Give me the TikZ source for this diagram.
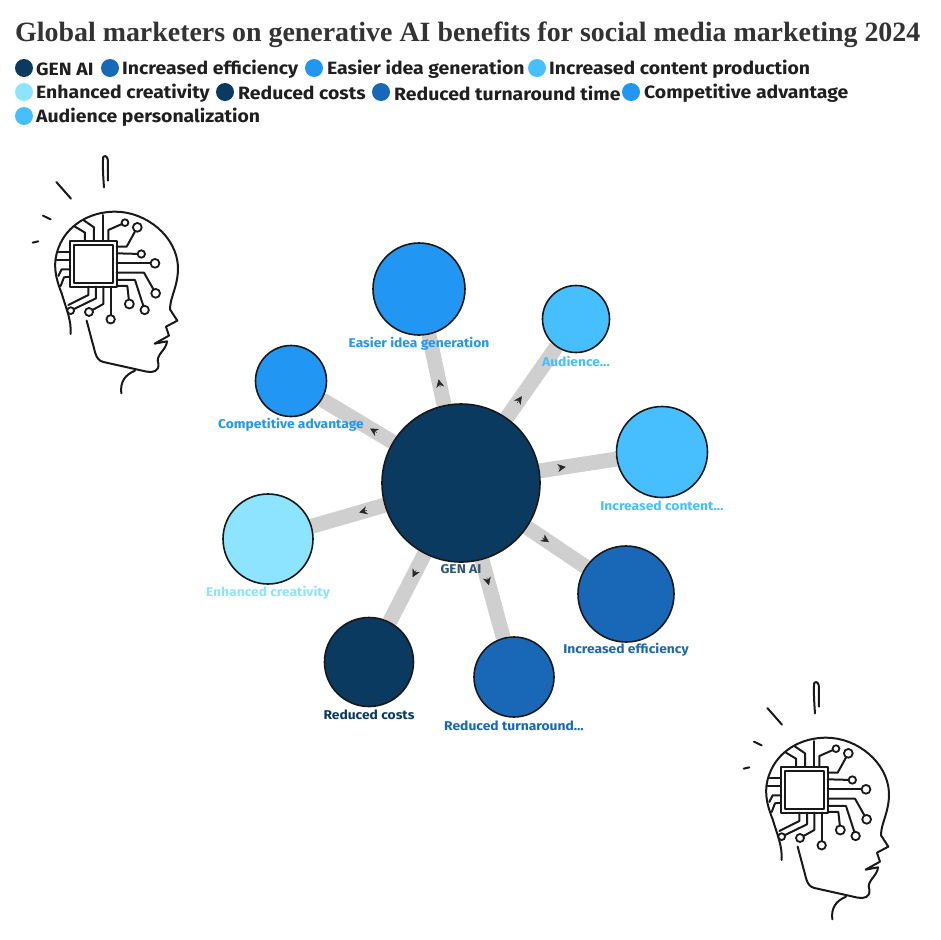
\documentclass[tikz,border=0pt]{standalone}
\usepackage{fontspec}
\setmainfont[FakeStretch=1.09]{Fira Sans}
\newfontfamily\titlefont{Liberation Serif}
\usetikzlibrary{calc,arrows.meta,backgrounds}
\definecolor{cnavy}{HTML}{0A3A60}
\definecolor{cmid}{HTML}{1868B7}
\definecolor{cblue}{HTML}{2196F3}
\definecolor{csky}{HTML}{47BFFF}
\definecolor{cpale}{HTML}{8DE4FF}
\definecolor{cedge}{HTML}{CFCFCF}
\tikzset{
  x=1pt,y=-1pt,
  bubble/.style={circle,draw=black!90,line width=1.6pt,inner sep=0pt,minimum size=#1},
  link/.style={draw=cedge,line width=15pt},
  tick/.style={-{Stealth[length=8pt,width=8pt,inset=2.5pt]},draw=black!85,line width=.5pt},
  lab/.style={font=\fontsize{12.7}{14}\selectfont\bfseries,inner sep=0pt,anchor=center},
  legdot/.style={circle,inner sep=0pt,minimum size=18pt},
  legtext/.style={font=\fontsize{17.8}{20}\selectfont\bfseries,text=black!88,inner sep=0pt,anchor=west},
  hl/.style={line width=2pt,line cap=round,line join=round,draw=black!90},
  pad/.style={circle,draw=black!90,fill=white,line width=1.8pt,inner sep=0pt,minimum size=#1},
  head/.pic={
    \begin{scope}[x=.3333pt,y=-.3333pt]
    \draw[hl] (252,112) .. controls (248,60) and (248,30) .. (250,20) .. controls (258,15) and (264,22) .. (264,35) -- (264,92);
    \draw[hl] (109,96) -- (153,146);
    \draw[hl] (69,197) -- (92,208);
    \draw[hl] (38,278) -- (55,274);
    \draw[hl] (152,552) .. controls (154,510) and (140,480) .. (125,430) .. controls (105,380) and (98,340) .. (115,295) .. controls (140,225) and (210,185) .. (285,185) .. controls (380,185) and (470,260) .. (474,350) .. controls (475,410) and (450,440) .. (450,478) -- (472,512) -- (438,530) -- (447,557) -- (404,581) -- (441,574) .. controls (440,600) and (405,615) .. (415,640) .. controls (418,665) and (400,668) .. (380,665) -- (250,636) .. controls (225,630) and (225,600) .. (218,580) -- (200,512);
    \draw[hl] (345,662) .. controls (315,675) and (300,695) .. (304,730);
    \draw[hl,line width=2.2pt] (150,272) rectangle (290,410);
    \draw[hl,line width=2.2pt] (162,284) rectangle (278,398);
    \draw[hl] (265,272) -- (265,240) -- (315,218);
    \draw[hl] (248,272) -- (248,195);
    \draw[hl] (222,272) -- (222,232) -- (190,210);
    \draw[hl] (195,272) -- (195,248) -- (165,230);
    \draw[hl] (290,290) -- (320,290) -- (352,232);
    \draw[hl] (290,310) -- (364,312);
    \draw[hl] (290,340) -- (405,340);
    \draw[hl] (290,368) -- (372,368) -- (407,430);
    \draw[hl] (290,390) -- (345,390) -- (374,480);
    \draw[hl] (290,408) -- (322,408) -- (328,462);
    \draw[hl] (272,410) -- (272,508);
    \draw[hl] (250,410) -- (250,462) -- (207,486);
    \draw[hl] (228,410) -- (228,445) -- (152,482);
    \draw[hl] (205,410) -- (205,435) -- (145,465);
    \draw[hl] (150,305) -- (116,305);
    \draw[hl] (150,330) -- (110,330);
    \draw[hl] (150,358) -- (125,358) -- (115,378);
    \draw[hl] (150,380) -- (132,382) -- (122,408);
    \node[pad=6.8pt] at (315,218) {};
    \node[pad=8.8pt] at (352,232) {};
    \node[pad=7.4pt] at (364,312) {};
    \node[pad=8.8pt] at (405,340) {};
    \node[pad=8.8pt] at (407,430) {};
    \node[pad=8.4pt] at (374,480) {};
    \node[pad=9pt] at (328,462) {};
    \node[pad=8.4pt] at (272,508) {};
    \node[pad=8pt] at (207,486) {};
    \node[pad=6.8pt] at (152,482) {};
    \end{scope}
  }
}
\begin{document}
\begin{tikzpicture}
\useasboundingbox (0,0) rectangle (940,940);
\node[anchor=west,inner sep=0pt,text=black!80,font=\titlefont\fontsize{27.9}{30}\selectfont\bfseries] (title) at (15,35) {Global marketers on generative AI benefits for social media marketing 2024};

% legend
\node[legdot,fill=cnavy] (d1) at (24,68) {};
\node[legtext] (t1) at (36,69) {GEN AI};
\node[legdot,fill=cmid] (d2) at (110,68) {};
\node[legtext] (t2) at (122,69) {Increased efficiency};
\node[legdot,fill=cblue] (d3) at (314,68) {};
\node[legtext] (t3) at (327,69) {Easier idea generation};
\node[legdot,fill=csky] (d4) at (537,68) {};
\node[legtext] (t4) at (549,69) {Increased content production};
\node[legdot,fill=cpale] (d5) at (24,92) {};
\node[legtext] (t5) at (36,93) {Enhanced creativity};
\node[legdot,fill=cnavy] (d6) at (225,92) {};
\node[legtext] (t6) at (238,93) {Reduced costs};
\node[legdot,fill=cmid] (d7) at (381,92) {};
\node[legtext] (t7) at (394,93) {Reduced turnaround time};
\node[legdot,fill=cblue] (d8) at (631,92) {};
\node[legtext] (t8) at (644,93) {Competitive advantage};
\node[legdot,fill=csky] (d9) at (24,116) {};
\node[legtext] (t9) at (36,117) {Audience personalization};

% bubbles
\node[bubble=158pt,fill=cnavy] (gen) at (461,483) {};
\node[bubble=92pt,fill=cblue] (easier) at (419,289) {};
\node[bubble=67pt,fill=csky] (aud) at (576,319) {};
\node[bubble=91pt,fill=csky] (cont) at (662,452) {};
\node[bubble=96pt,fill=cmid] (eff) at (626,594) {};
\node[bubble=80pt,fill=cmid] (turn) at (514,677) {};
\node[bubble=89pt,fill=cnavy] (costs) at (369,662) {};
\node[bubble=90pt,fill=cpale] (creat) at (268,539) {};
\node[bubble=71pt,fill=cblue] (comp) at (291,381) {};

\begin{scope}[on background layer]
\foreach \n in {easier,aud,cont,eff,turn,costs,creat,comp}{
  \draw[link] (gen) -- (\n);
}
\end{scope}
\foreach \n in {easier,aud,cont,eff,turn,costs,creat,comp}{
  \draw[tick] ($(gen)!98pt!(\n)$) -- ($(gen)!106pt!(\n)$);
}

% labels
\node[lab,text=cnavy!85] (lgen) at (461,569) {GEN AI};
\node[lab,text=cblue] (l1) at (419,344) {Easier idea generation};
\node[lab,text=csky] (l2) at (576,361) {Audience...};
\node[lab,text=csky] (l3) at (662,506) {Increased content...};
\node[lab,text=cmid] (l4) at (626,650) {Increased efficiency};
\node[lab,text=cmid] (l5) at (514,726) {Reduced turnaround...};
\node[lab,text=cnavy] (l6) at (369,715) {Reduced costs};
\node[lab,text=cpale] (l7) at (268,593) {Enhanced creativity};
\node[lab,text=cblue] (l8) at (291,425) {Competitive advantage};

% heads
\pic at (20,150) {head};
\pic at (731,676) {head};
\end{tikzpicture}
\end{document}
